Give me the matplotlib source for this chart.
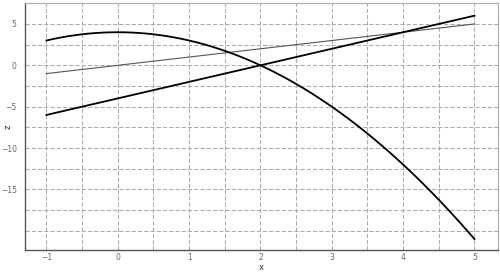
import numpy as np
import matplotlib.pyplot as plt

# curve samples
x = np.linspace(-1, 5, 61)
x_lin = [-1, 5]
z_ident = [-1, 5]          # thin grey line z = x
z_steep = [-6, 6]          # black line z = 2x - 4
z_parab = 4 - x ** 2       # black curve through (-1,3), (0,4), (2,0), (5,-21)

fig = plt.figure(figsize=(5, 2.73), dpi=100)
ax = fig.add_axes([0.05, 0.085, 0.946, 0.903])

ax.plot(x_lin, z_ident, color='#555555', lw=0.8)
ax.plot(x_lin, z_steep, color='black', lw=1.3)
ax.plot(x, z_parab, color='black', lw=1.3)

ax.set_xlim(-1.3, 5.33)
ax.set_ylim(-22.3, 7.5)

ax.set_xticks([-1, 0, 1, 2, 3, 4, 5])
ax.set_xticks(np.arange(-0.5, 5, 1), minor=True)
ax.set_yticks([5, 0, -5, -10, -15])
ax.set_yticks([2.5, -2.5, -7.5, -12.5, -17.5, -20], minor=True)
ax.grid(True, which='both', color='#ababab', ls=(0, (4, 2)), lw=0.75)
ax.tick_params(which='both', length=0, labelsize=5.5, labelcolor='#666666')
ax.tick_params(axis='x', pad=2)
ax.tick_params(axis='y', pad=6)

ax.set_xlabel('x', fontsize=6, color='#333333', va='center')
ax.set_ylabel('z', fontsize=6, color='#333333', va='center')
ax.xaxis.set_label_coords(0.5, -0.072)
ax.yaxis.set_label_coords(-0.036, 0.5)

for side in ['top', 'right']:
    ax.spines[side].set_color('#aaaaaa')
    ax.spines[side].set_linewidth(0.8)
for side in ['left', 'bottom']:
    ax.spines[side].set_color('#555555')
    ax.spines[side].set_linewidth(1.0)

fig.savefig('out.png', dpi=100)
